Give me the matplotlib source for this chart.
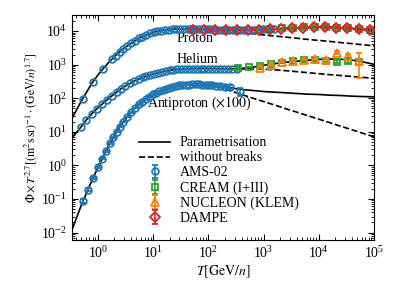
import matplotlib
matplotlib.use("Agg")
import matplotlib.pyplot as plt
from matplotlib.lines import Line2D

plt.rcParams['font.family'] = 'serif'
plt.rcParams['font.serif'] = ['Liberation Serif', 'DejaVu Serif']
plt.rcParams['mathtext.fontset'] = 'stix'
plt.rcParams['font.size'] = 10

# ---------------- data ----------------
# model grid (kinetic energy per nucleon, GeV/n)
model_T = [0.34, 0.5, 0.63, 0.79, 1.0, 1.26, 1.58, 2.0, 2.5, 3.16, 4.0, 5.0, 6.3, 8.0, 10,
           12.6, 16, 20, 25, 32, 40, 50, 63, 80, 100, 160, 250, 400, 630, 1000, 1600,
           2500, 4000, 6300, 1e4, 1.6e4, 2.5e4, 4e4, 6.3e4, 1e5]
proton_model = [25.1, 81.3, 155, 288, 490, 776, 1175, 1738, 2455, 3311,
                4365, 5495, 6761, 7943, 9120, 10000, 10715, 11092, 11482, 11561,
                11614, 11561, 11482, 11350, 11220, 10965, 10839, 10839, 10965, 11220,
                11482, 11885, 12303, 12735, 13032, 13032, 12589, 11885, 11220, 10471]
helium_model = [6.61, 14.1, 23.4, 35.5, 51.3, 72.4, 100, 135, 182, 234,
                288, 351, 407, 468, 525, 582, 631, 676, 708, 733,
                750, 755, 759, 759, 759, 753, 752, 767, 832, 955,
                1072, 1175, 1259, 1349, 1429, 1462, 1445, 1365, 1202, 1023]
pbar_model_x100 = [0.0120, 0.0646, 0.158, 0.372, 0.851, 1.862, 3.98, 7.94, 14.1, 24.0,
                   38.0, 57.5, 79.4, 105, 132, 158, 186, 209, 229, 243,
                   251, 257, 257, 254, 251, 229, 204, 182, 170, 158,
                   151, 145, 138, 132, 129, 123, 120, 115, 112, 110]

# "without breaks"
proton_nb_T = [63, 80, 100, 160, 250, 400, 630, 1000, 1600, 2500, 4000, 6300, 1e4,
               1.6e4, 2.5e4, 4e4, 6.3e4, 1e5]
proton_nb = [11482, 11350, 11220, 10593, 9772, 9016, 8318, 7674, 7079, 6607, 6095,
             5623, 5248, 4898, 4519, 4217, 3890, 3631]
helium_nb_T = [250, 400, 630, 1000, 1600, 2500, 4000, 6300, 1e4, 1.6e4, 2.5e4, 4e4,
               6.3e4, 1e5]
helium_nb = [752, 746, 738, 724, 700, 661, 617, 575, 537, 501, 473, 442, 417, 389]
pbar_nb_T = [100, 160, 250, 400, 630, 1000, 1600, 2500, 4000, 6300, 1e4, 1.6e4,
             2.5e4, 4e4, 6.3e4, 1e5]
pbar_nb_x100 = [251, 214, 166, 129, 101, 79.4, 62.4, 49.0, 38.5, 30.2, 23.7, 18.6,
                14.6, 11.5, 9.0, 7.08]

# AMS-02
ams_p_T = [0.53, 0.80, 1.22, 1.78, 2.1, 2.5, 2.9, 3.4, 4.0, 4.7, 5.5, 6.4, 7.5, 8.8,
           10.3, 12.0, 14.0, 16.5, 19.3, 22.5, 26.4, 31, 36, 42, 49, 58, 68, 79, 93,
           108, 127, 148, 174, 203, 238, 278, 325, 380, 445, 520, 610, 710, 830, 970,
           1140, 1330, 1560]
ams_p = [95.5, 295, 724, 1445, 1862, 2455, 2951, 3631, 4365, 5129, 6026, 6761, 7586,
         8511, 9226, 9772, 10351, 10789, 11041, 11272, 11482, 11561, 11614, 11614,
         11561, 11482, 11429, 11350, 11272, 11169, 11092, 11015, 10965, 10914, 10864,
         10839, 10839, 10839, 10889, 10940, 10990, 11041, 11117, 11220, 11272, 11350,
         11482]
ams_he_T = [0.501, 0.617, 0.776, 0.955, 1.175, 1.445, 1.778, 2.188, 2.63, 3.16, 3.80,
            4.57, 5.50, 6.46, 7.59, 8.91, 10.5, 12.3, 14.5, 17.0, 20.0, 23.4, 27.5,
            32.4, 38.0, 44.7, 52.5, 61.7, 72.4, 85.1, 100, 117, 138, 162, 191, 224,
            269, 331]
ams_he = [14.1, 22.4, 33.9, 47.9, 66.1, 89.1, 117, 155, 191, 234, 275, 324, 372, 417,
          457, 501, 537, 575, 617, 646, 676, 700, 716, 733, 741, 750, 755, 759, 759,
          759, 759, 757, 755, 753, 752, 752, 752, 750]
ams_pbar_T = [0.541, 0.667, 0.822, 1.01, 1.20, 1.40, 1.66, 1.91, 2.19, 2.51, 2.88,
              3.39, 3.98, 4.68, 5.50, 6.31, 7.41, 8.51, 9.77, 11.2, 12.9, 14.8, 17.0,
              19.5, 22.4, 25.7, 29.5, 33.9, 38.9, 44.7, 51.3, 58.9, 67.6, 77.6, 89.1,
              102, 117, 138, 166, 200, 251, 380]
ams_pbar_x100 = [0.0871, 0.191, 0.417, 0.891, 1.585, 2.63, 4.57, 6.92, 10.0, 14.1,
                 19.5, 27.5, 38.0, 51.3, 66.1, 79.4, 95.5, 112, 129, 145, 162, 178,
                 191, 204, 219, 229, 240, 245, 251, 251, 257, 257, 257, 246, 255, 240,
                 250, 232, 238, 220, 219, 162]
ams_pbar_err = [0.012, 0.02, 0.03, 0.05, 0.07, 0.1, 0.15, 0.2, 0.3, 0.4, 0.5, 0.7, 0.9,
                1.1, 1.3, 1.6, 1.8, 2, 2.3, 2.6, 2.9, 3.2, 3.4, 3.7, 4, 4.3, 4.6, 5,
                5.5, 6, 7, 8, 9, 10, 11, 12, 13, 15, 18, 22, 33, 42]

# CREAM (I+III)
cream_p_T = [851, 1349, 2138, 3388, 5370, 8511, 13490, 21380, 33880, 53700, 85110]
cream_p = [10965, 11482, 12023, 12589, 13183, 13183, 13183, 12589, 12023, 11220, 10715]
cream_p_err = [300, 350, 400, 450, 500, 600, 700, 800, 1000, 1200, 1500]
cream_he_T = [340, 540, 850, 1350, 2140, 3390, 5370, 8510, 13490, 21380, 33880, 53700]
cream_he = [776, 851, 933, 1047, 1148, 1288, 1349, 1349, 1318, 1230, 1288, 1202]
cream_he_err = [20, 22, 25, 30, 35, 45, 55, 70, 90, 110, 150, 220]

# NUCLEON (KLEM)
nucleon_he_T = [851, 1349, 2138, 3388, 5370, 8511, 13490, 21380, 33880, 53700]
nucleon_he = [813, 977, 1202, 1318, 1413, 1514, 1413, 2291, 1778, 1259]
nucleon_he_lo = [25, 30, 40, 45, 60, 80, 100, 250, 300, 870]
nucleon_he_hi = [25, 30, 40, 45, 60, 80, 100, 300, 350, 980]

# DAMPE
dampe_p_T = [52, 83, 132, 209, 331, 525, 832, 1318, 2089, 3311, 5248, 8318, 13183,
             20893, 33113, 52481, 83176]
dampe_p = [10715, 10715, 10471, 10471, 10715, 10715, 10715, 11220, 11482, 12023,
           12589, 13183, 13183, 12589, 12023, 11220, 10715]
dampe_p_err = [150, 150, 150, 150, 150, 150, 160, 180, 200, 250, 300, 400, 500, 600,
               800, 1000, 1300]

# ---------------- plot ----------------
c_ams, c_cream, c_nuc, c_dampe = '#1f77b4', '#2ca02c', '#ff7f0e', '#d62728'

fig = plt.figure(figsize=(4, 3), dpi=100)
ax = fig.add_axes([0.18, 0.2, 0.755, 0.75])

lw = 1.2
for yy in (proton_model, helium_model, pbar_model_x100):
    ax.plot(model_T, yy, color='k', lw=lw, zorder=1)
for xx, yy in ((proton_nb_T, proton_nb), (helium_nb_T, helium_nb),
               (pbar_nb_T, pbar_nb_x100)):
    ax.plot(xx, yy, color='k', lw=lw, ls='--', zorder=1)

def eb(x, y, yerr, color, marker, ms):
    return ax.errorbar(x, y, yerr=yerr, fmt=marker, mfc='none', mec=color, mew=1.3,
                       ms=ms, ecolor=color, elinewidth=1.2, capsize=2, capthick=1.2,
                       zorder=3)

eb(ams_p_T, ams_p, None, c_ams, 'o', 4.8)
eb(ams_he_T, ams_he, None, c_ams, 'o', 4.8)
h_ams = eb(ams_pbar_T, ams_pbar_x100, ams_pbar_err, c_ams, 'o', 4.8)
eb(cream_p_T, cream_p, cream_p_err, c_cream, 's', 5)
h_cream = eb(cream_he_T, cream_he, cream_he_err, c_cream, 's', 5)
h_nuc = eb(nucleon_he_T, nucleon_he, [nucleon_he_lo, nucleon_he_hi], c_nuc, '^', 5.5)
h_dampe = eb(dampe_p_T, dampe_p, dampe_p_err, c_dampe, 'D', 5.5)

ax.set_xscale('log')
ax.set_yscale('log')
ax.set_xlim(0.34, 1e5)
ax.set_ylim(6e-3, 3e4)

ax.text(27, 5800, 'Proton', ha='left', va='center')
ax.text(27, 1400, 'Helium', ha='left', va='center')
ax.text(7.8, 68, r'Antiproton ($\times 100$)', ha='left', va='center')

ax.set_xlabel(r'$T[\mathrm{GeV}/n]$', labelpad=2)
ax.set_ylabel(r'$\Phi\times T^{2.7}[(\mathrm{m^2s\,sr})^{-1}\cdot(\mathrm{GeV}/n)^{1.7}]$',
              fontsize=8.5, labelpad=2)

ax.tick_params(which='both', direction='in', top=True, right=True)
ax.tick_params(which='major', length=4)
ax.tick_params(which='minor', length=2)

handles = [Line2D([], [], color='k', lw=lw), Line2D([], [], color='k', lw=lw, ls='--'),
           h_ams, h_cream, h_nuc, h_dampe]
labels = ['Parametrisation', 'without breaks', 'AMS-02', 'CREAM (I+III)',
          'NUCLEON (KLEM)', 'DAMPE']
ax.legend(handles, labels, loc='upper left', bbox_to_anchor=(0.205, 0.485),
          frameon=False, labelspacing=0.14, handlelength=2.2, handletextpad=0.7,
          borderaxespad=0)

fig.savefig('out.png', dpi=100)
